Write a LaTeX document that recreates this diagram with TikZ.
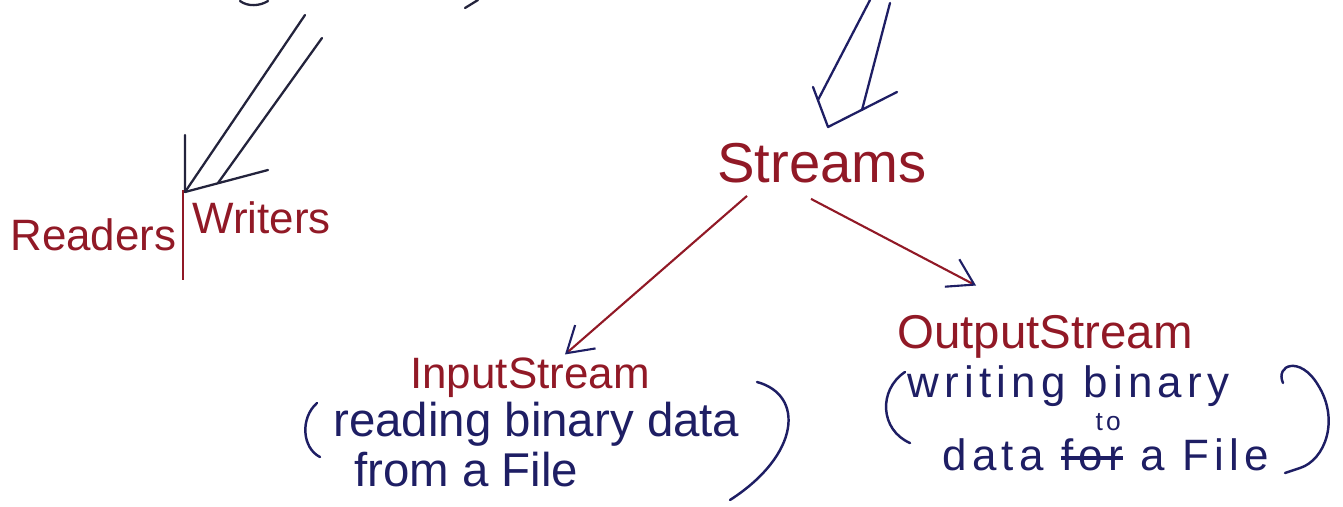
\documentclass[tikz,border=0pt]{standalone}
\usepackage{fontspec}
\setmainfont{Liberation Sans}
\usepackage{xcolor}
\usetikzlibrary{arrows.meta}
\definecolor{inkred}{RGB}{145,25,38}
\definecolor{inkblue}{RGB}{30,30,100}
\definecolor{inkdark}{RGB}{35,35,60}
\newsavebox\wordbox
\newcommand{\crossout}[1]{\sbox\wordbox{#1}\rlap{\rule[0.22em]{\wd\wordbox}{2.6pt}}\usebox\wordbox}

\begin{document}
\begin{tikzpicture}[
    x=0.02cm, y=-0.02cm,
    %% ── Node styles ─────────────────────────────────────────────
    side/.style  ={inner sep=0pt, anchor=base west, text=inkred,
                   font=\fontsize{25}{25}\selectfont},
    topic/.style ={inner sep=0pt, anchor=base west, text=inkred,
                   font=\fontsize{32}{32}\selectfont},
    kind/.style  ={inner sep=0pt, anchor=base west, text=inkred,
                   font=\fontsize{27}{27}\selectfont},
    desc/.style  ={inner sep=0pt, anchor=base west, text=inkblue,
                   font=\fontsize{27}{27}\selectfont},
    wide/.style  ={font=\fontsize{25}{25}\selectfont\addfontfeature{LetterSpace=12}},
    hollow/.style={line width=1.3pt, color=inkdark, line cap=round, line join=round},
    paren/.style ={line width=1.4pt, color=inkblue, line cap=round},
    arr/.style   ={-{Straight Barb[length=0.5cm, width=0.62cm, color=inkblue]},
                   line width=1.2pt, color=inkred}
]
    \useasboundingbox (0,0) rectangle (1343,507);

    %% ── Nodes ──────────────────────────────────────────────────
    \node[side]  (readers)   at (10,  250) {Readers};
    \node[side]  (writers)   at (192, 233) {Writers};
    \node[topic] (streams)   at (717, 182) {Streams};
    \node[kind, font=\fontsize{25}{25}\selectfont]
                 (instream)  at (410, 388) {InputStream};
    \node[kind]  (outstream) at (897, 348) {OutputStream};

    \node[desc]  (inlineA)   at (333, 436) {reading binary data};
    \node[desc]  (inlineB)   at (354, 486) {from a File};
    \node[desc, wide] (outlineA) at (907, 397) {writing binary};
    \node[desc, wide] (outlineB) at (942, 470) {data
        \crossout{for}\llap{\raisebox{0.89em}{\fontsize{15}{15}\selectfont to}\hspace{0.05em}}
        a File};

    %% ── Hollow arrows from above ────────────────────────────────
    \coordinate (rwL)    at (305, 15);
    \coordinate (rwR)    at (322, 38);
    \coordinate (rwTip)  at (185, 192);
    \coordinate (rwTop)  at (185, 135);
    \coordinate (rwEnd)  at (268, 170);
    \coordinate (rwJoin) at (218, 183);
    \draw[hollow] (rwL) -- (rwTip);
    \draw[hollow] (rwR) -- (rwJoin);
    \draw[hollow] (rwTop) -- (rwTip) -- (rwEnd);

    \coordinate (stL)    at (870, 0);
    \coordinate (stR)    at (890, 3);
    \coordinate (stTip)  at (828, 127);
    \coordinate (stTop)  at (813, 87);
    \coordinate (stEnd)  at (897, 92);
    \coordinate (stJoinL) at (818, 100);
    \coordinate (stJoinR) at (862, 110);
    \draw[hollow, color=inkblue] (stL) -- (stJoinL);
    \draw[hollow, color=inkblue] (stR) -- (stJoinR);
    \draw[hollow, color=inkblue] (stTop) -- (stTip) -- (stEnd);

    % bits of the line above
    \draw[hollow] (240,1) .. controls (248,7) and (260,6) .. (268,1);
    \draw[hollow] (465,8) -- (478,0);

    %% ── Divider and brackets ───────────────────────────────────
    \draw[line width=1.4pt, inkred] (183,190) -- (183,280);
    \draw[paren] (317,403) .. controls (300,418) and (302,448) .. (320,457);
    \draw[paren] (757,382) .. controls (805,395) and (800,455) .. (730,500);
    \draw[paren] (905,372) .. controls (878,390) and (880,430) .. (910,443);
    \draw[paren] (1283,383) .. controls (1275,365) and (1300,355) .. (1318,385)
                 .. controls (1340,420) and (1325,460) .. (1300,468) -- (1285,473);

    %% ── Arrows ──────────────────────────────────────────────────
    \draw[arr] ([xshift=-1.5cm, yshift=-0.26cm]streams.south)
               -- ([xshift=0.7cm, yshift=0.05cm]instream.north);
    \draw[arr] ([xshift=-0.22cm, yshift=-0.32cm]streams.south)
               -- ([xshift=-1.38cm, yshift=0.58cm]outstream.north);

\end{tikzpicture}
\end{document}
